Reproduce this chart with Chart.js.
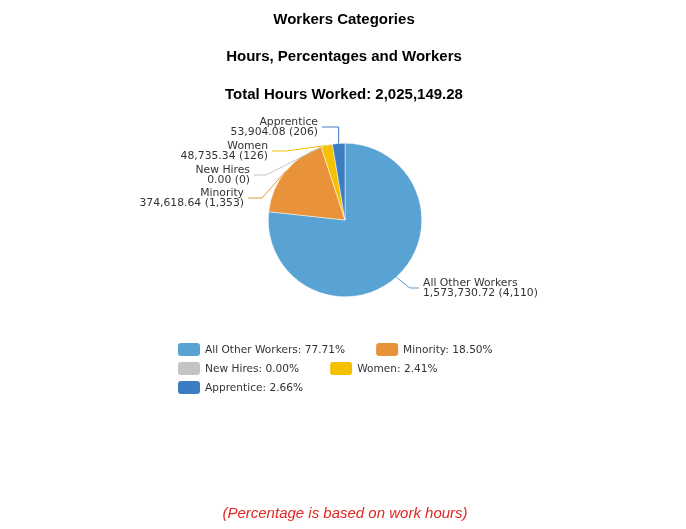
<!DOCTYPE html>
<html>
<head>
<meta charset="utf-8">
<script src="https://cdn.jsdelivr.net/npm/chart.js@4/dist/chart.umd.min.js"></script>
<style>
  html, body { margin: 0; padding: 0; background: #fff; }
  canvas { display: block; }
</style>
</head>
<body>
<canvas id="workersChart" width="686" height="529"></canvas>
<script>
// data
const categories = ['All Other Workers', 'Minority', 'New Hires', 'Women', 'Apprentice'];
const hours = [1573730.72, 374618.64, 0.00, 48735.34, 53904.08];
const workers = [4110, 1353, 0, 126, 206];
const percentages = [77.71, 18.50, 0.00, 2.41, 2.66];
const totalHours = 2025149.28;
const titles = ['Workers Categories', 'Hours, Percentages and Workers'];
const footNote = '(Percentage is based on work hours)';

const colors = ['#58a2d4', '#e8923a', '#c4c4c4', '#f5c000', '#3b7cc2'];

// where each outside label sits (text anchor + elbow of the leader line)
const labelLayout = [
  { side: 'right', x: 423, y: 283, elbow: [410, 288] },
  { side: 'left', x: 244, y: 193, elbow: [262, 198] },
  { side: 'left', x: 250, y: 170, elbow: [266, 175] },
  { side: 'left', x: 268, y: 146, elbow: [286, 151] },
  { side: 'left', x: 318, y: 122, elbow: null }
];

const fmt = (v) => v.toLocaleString('en-US', { minimumFractionDigits: 2, maximumFractionDigits: 2 });

const decorations = {
  id: 'decorations',
  afterDraw(chart) {
    const ctx = chart.ctx;
    const meta = chart.getDatasetMeta(0);
    ctx.save();

    // titles
    ctx.fillStyle = '#000';
    ctx.textAlign = 'center';
    ctx.textBaseline = 'middle';
    ctx.font = 'bold 15px "Liberation Sans", Arial, sans-serif';
    ctx.fillText(titles[0], 344, 20);
    ctx.fillText(titles[1], 344, 57);
    ctx.fillText('Total Hours Worked: ' + fmt(totalHours), 344, 95);

    // outside labels with leader lines
    ctx.font = '10.8px "DejaVu Sans", sans-serif';
    meta.data.forEach((arc, i) => {
      const lay = labelLayout[i];
      const mid = (arc.startAngle + arc.endAngle) / 2;
      const ex = arc.x + Math.cos(mid) * arc.outerRadius;
      const ey = arc.y + Math.sin(mid) * arc.outerRadius;
      const lineY = lay.y + 5;
      const endX = lay.side === 'right' ? lay.x - 4 : lay.x + 4;
      const elbow = lay.elbow || [ex, lineY];
      ctx.strokeStyle = colors[i];
      ctx.lineWidth = 1;
      ctx.beginPath();
      ctx.moveTo(ex, ey);
      ctx.lineTo(elbow[0], elbow[1]);
      ctx.lineTo(endX, elbow[1]);
      ctx.stroke();

      ctx.fillStyle = '#333';
      ctx.textAlign = lay.side === 'right' ? 'left' : 'right';
      ctx.fillText(categories[i], lay.x, lay.y);
      ctx.fillText(fmt(hours[i]) + ' (' + workers[i].toLocaleString('en-US') + ')', lay.x, lay.y + 10.5);
    });

    // legend, two items per row
    ctx.font = '10.6px "DejaVu Sans", sans-serif';
    ctx.textAlign = 'left';
    const rowsY = [349, 368, 387];
    let x = 178;
    categories.forEach((name, i) => {
      const row = Math.floor(i / 2);
      if (i % 2 === 0) x = 178;
      const y = rowsY[row];
      ctx.fillStyle = colors[i];
      ctx.beginPath();
      ctx.roundRect(x, y - 6, 22, 13, 3);
      ctx.fill();
      ctx.fillStyle = '#333';
      const txt = name + ': ' + percentages[i].toFixed(2) + '%';
      ctx.fillText(txt, x + 27, y + 1);
      x += 27 + ctx.measureText(txt).width + 31;
    });

    // foot note
    ctx.fillStyle = '#e3261f';
    ctx.textAlign = 'center';
    ctx.font = 'italic 15px "Liberation Sans", Arial, sans-serif';
    ctx.fillText(footNote, 345, 514);

    ctx.restore();
  }
};

new Chart(document.getElementById('workersChart'), {
  type: 'pie',
  data: {
    labels: categories,
    datasets: [{
      data: hours,
      backgroundColor: colors,
      borderColor: '#ffffff',
      borderWidth: 0.5
    }]
  },
  options: {
    responsive: false,
    animation: false,
    devicePixelRatio: 1,
    layout: { padding: { left: 268, right: 264, top: 143, bottom: 232 } },
    plugins: {
      legend: { display: false },
      tooltip: { enabled: false }
    }
  },
  plugins: [decorations]
});
</script>
</body>
</html>
